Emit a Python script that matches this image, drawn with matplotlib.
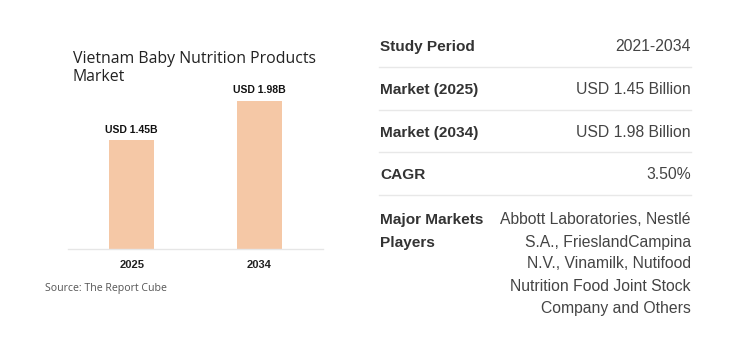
import matplotlib
matplotlib.use("Agg")
import matplotlib.pyplot as plt

# chart data
years = ["2025", "2034"]
market_size = [1.45, 1.98]
bar_labels = ["USD 1.45B", "USD 1.98B"]

# summary table data
row_names = ["Study Period", "Market (2025)", "Market (2034)", "CAGR"]
row_values = ["2021-2034", "USD 1.45 Billion", "USD 1.98 Billion", "3.50%"]
players_label = ["Major Markets", "Players"]
players_lines = ["Abbott Laboratories, Nestlé", "S.A., FrieslandCampina",
                 "N.V., Vinamilk, Nutifood", "Nutrition Food Joint Stock",
                 "Company and Others"]

W, H = 729, 355
fig = plt.figure(figsize=(W / 100, H / 100), dpi=100, facecolor="white")


def px(x, y):
    # pixel position -> figure fraction
    return x / W, 1 - y / H


# bar chart
ax = fig.add_axes([68 / W, (H - 249) / H, 255 / W, 179 / H])
ax.bar(range(len(years)), market_size, width=0.35, color="#F5C8A6")
ax.set_xlim(-0.5, 1.5)
ax.set_ylim(0, 2.387)
for i, (v, lab) in enumerate(zip(market_size, bar_labels)):
    ax.annotate(lab, (i, v), xytext=(0, 4), textcoords="offset points",
                ha="center", va="bottom", fontsize=7.5, fontweight="bold",
                family="Liberation Sans", color="#111111")
ax.set_xticks(range(len(years)))
ax.set_xticklabels(years, fontsize=8, fontweight="bold", family="Liberation Sans",
                   color="#222222")
ax.tick_params(axis="x", length=0, pad=8)
ax.set_yticks([])
for s in ["top", "right", "left"]:
    ax.spines[s].set_visible(False)
ax.spines["bottom"].set_color("#e6e6e6")
ax.spines["bottom"].set_linewidth(1)

fig.text(*px(73, 68), "Vietnam Baby Nutrition Products\nMarket", fontsize=11.4,
         family="Open Sans", color="#222222", ha="left", va="center",
         linespacing=1.12)
fig.text(*px(45, 289), "Source: The Report Cube", fontsize=7.6, family="Open Sans",
         color="#555555", ha="left", va="center")

# summary table
row_y = [51, 94, 137, 179]
sep_y = [67, 110, 152, 195]
for name, val, y in zip(row_names, row_values, row_y):
    fig.text(*px(380, y), name, fontsize=11.1, fontweight="bold",
             family="Liberation Sans", color="#333333", ha="left", va="baseline")
    fig.text(*px(691, y), val, fontsize=11.3, family="Liberation Sans",
             color="#444444", ha="right", va="baseline")
for y in sep_y:
    fig.add_artist(plt.Line2D([379 / W, 691 / W], [1 - y / H, 1 - y / H],
                              color="#e8e8e8", linewidth=1))

line_y = [224, 246.5, 268.5, 290.7, 312.7]
for lab, y in zip(players_label, line_y):
    fig.text(*px(380, y), lab, fontsize=11.1, fontweight="bold",
             family="Liberation Sans", color="#333333", ha="left", va="baseline")
for txt, y in zip(players_lines, line_y):
    fig.text(*px(691, y), txt, fontsize=11.3, family="Liberation Sans",
             color="#444444", ha="right", va="baseline")

fig.savefig("out.png", dpi=100, facecolor="white")
